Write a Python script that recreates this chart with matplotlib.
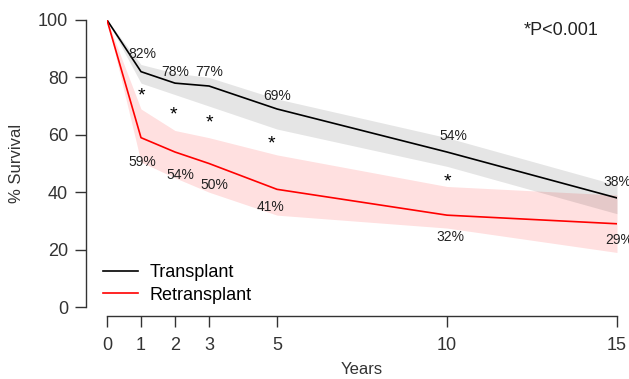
import numpy as np
from matplotlib import pyplot as plt

plt.rcParams["font.family"] = ["Liberation Sans", "DejaVu Sans"]

years = [0, 1, 2, 3, 5, 10, 15]
transplant = [100, 82, 78, 77, 69, 54, 38]
transplant_lo = [100, 78, 74, 70, 62, 49, 32.5]
transplant_hi = [100, 84.5, 81.5, 80, 72.5, 59, 42.5]
retransplant = [100, 59, 54, 50, 41, 32, 29]
retransplant_lo = [100, 50.5, 45, 40, 32, 27.5, 19]
retransplant_hi = [100, 69, 61.5, 59, 53, 42, 39]

# label positions (x, y) for the percentages
transplant_labels = ["82%", "78%", "77%", "69%", "54%", "38%"]
transplant_label_pos = [(1.05, 88), (2.0, 82), (3.0, 82), (5.0, 73.5), (10.2, 59.6), (15.0, 43.5)]
retransplant_labels = ["59%", "54%", "50%", "41%", "32%", "29%"]
retransplant_label_pos = [(1.05, 50.5), (2.15, 46), (3.15, 42.5), (4.8, 35), (10.1, 24.4), (15.05, 23.3)]
star_pos = [(1.0, 73.5), (1.95, 67), (3.0, 64), (4.85, 56.8), (10.0, 43.6)]

fig = plt.figure(figsize=(6.29, 3.79), dpi=100)
ax = fig.add_axes([107 / 629, 72 / 379, 510 / 629, 287 / 379])

ax.fill_between(years, retransplant_lo, retransplant_hi, color="red", alpha=0.12, lw=0)
ax.fill_between(years, transplant_lo, transplant_hi, color="black", alpha=0.1, lw=0)
ax.plot(years, transplant, color="black", lw=1.2, label="Transplant")
ax.plot(years, retransplant, color="red", lw=1.2, label="Retransplant")

for s, (x, y) in zip(transplant_labels, transplant_label_pos):
    ax.text(x, y, s, ha="center", va="center", fontsize=10, color="#222222", clip_on=False)
for s, (x, y) in zip(retransplant_labels, retransplant_label_pos):
    ax.text(x, y, s, ha="center", va="center", fontsize=10, color="#222222", clip_on=False)
for x, y in star_pos:
    ax.text(x, y, "*", ha="center", va="center", fontsize=14, color="black")

ax.text(14.45, 96.5, "*P<0.001", ha="right", va="center", fontsize=13, color="#222222")

ax.set_xlim(0, 15)
ax.set_ylim(0, 100)
ax.set_xticks([0, 1, 2, 3, 5, 10, 15])
ax.set_yticks([0, 20, 40, 60, 80, 100])

for side in ["top", "right"]:
    ax.spines[side].set_visible(False)
ax.spines["left"].set_position(("outward", 15))
ax.spines["bottom"].set_position(("outward", 6.5))
ax.spines["left"].set_bounds(0, 100)
ax.spines["bottom"].set_bounds(0, 15)
for side in ["left", "bottom"]:
    ax.spines[side].set_color("#333333")
    ax.spines[side].set_linewidth(1.0)

ax.tick_params(axis="y", direction="out", length=8, width=1.0, pad=5,
               labelsize=13, colors="#333333")
ax.tick_params(axis="x", direction="out", length=8, width=1.0, pad=7,
               labelsize=13, colors="#333333")

ax.set_ylabel("% Survival", fontsize=12, color="#333333")
ax.yaxis.set_label_coords(-0.163, 0.5)
ax.set_xlabel("Years", fontsize=12, color="#333333")
ax.xaxis.set_label_coords(0.5, -0.19)

ax.legend(loc="lower left", bbox_to_anchor=(-0.04, -0.045), frameon=False,
          fontsize=13, handlelength=1.95, handletextpad=0.65, labelspacing=0.3)

fig.savefig("out.png", dpi=100)
